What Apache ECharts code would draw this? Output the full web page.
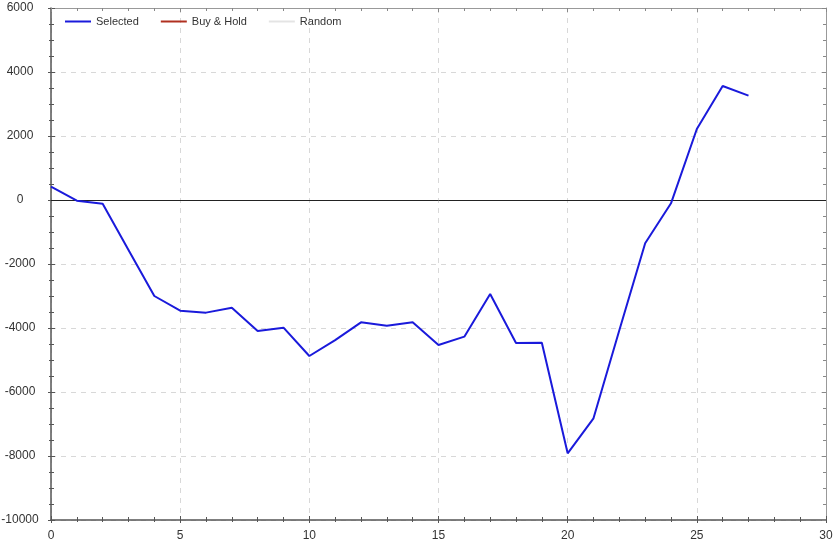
<!DOCTYPE html>
<html>
<head>
<meta charset="utf-8">
<script src="https://cdn.jsdelivr.net/npm/echarts@6/dist/echarts.min.js"></script>
<style>html,body{margin:0;padding:0;background:#fff}#c{width:839px;height:545px}</style>
</head>
<body>
<div id="c"></div>
<script>
var xIndex = [0,1,2,3,4,5,6,7,8,9,10,11,12,13,14,15,16,17,18,19,20,21,22,23,24,25,26,27];
var selected = [420,-20,-115,-1560,-3000,-3458,-3520,-3365,-4094,-3990,-4875,-4380,-3822,-3928,-3822,-4531,-4271,-2937,-4468,-4458,-7916,-6822,-4070,-1354,-104,2219,3563,3260];
var buyHold = [];
var randomS = [];
var seriesNames = ['Selected','Buy & Hold','Random'];

var font = 'Liberation Sans, Arial, sans-serif';
var chart = echarts.init(document.getElementById('c'), null, {renderer:'canvas'});
function pairs(arr){ return arr.map(function(v,i){ return [xIndex[i], v]; }); }
function plain(v){ return String(v); }
var axisCol = '#555';
var baseX = {type:'value', min:0, max:30, interval:5, gridIndex:0};
var baseY = {type:'value', min:-10000, max:6000, interval:2000, gridIndex:0};
chart.setOption({
  animation:false,
  backgroundColor:'#fff',
  grid:{left:51, right:13, top:8, bottom:25, containLabel:false, outerBoundsMode:'none'},
  legend:{
    data:seriesNames, left:60, top:11, icon:'rect', itemWidth:26, itemHeight:2, itemGap:22,
    textStyle:{fontFamily:font, fontSize:11, color:'#333'}
  },
  xAxis:[
    Object.assign({}, baseX, {position:'bottom',
      axisLine:{show:true, onZero:false, lineStyle:{color:axisCol, width:1.5}},
      axisTick:{show:true, inside:true, length:4, lineStyle:{color:axisCol}},
      minorTick:{show:true, splitNumber:5, length:3, lineStyle:{color:axisCol}},
      axisLabel:{fontFamily:font, fontSize:12, color:'#333', margin:10, formatter:plain},
      splitLine:{show:true, lineStyle:{color:'#d8d8d8', type:[5,5]}}}),
    Object.assign({}, baseX, {position:'bottom',
      axisLine:{show:false, onZero:false},
      axisTick:{show:true, inside:false, length:3, lineStyle:{color:axisCol}},
      minorTick:{show:true, splitNumber:5, length:2, lineStyle:{color:axisCol}},
      axisLabel:{show:false}, splitLine:{show:false}}),
    Object.assign({}, baseX, {position:'top',
      axisLine:{show:true, onZero:false, lineStyle:{color:'#999'}},
      axisTick:{show:true, inside:true, length:4, lineStyle:{color:'#888'}},
      minorTick:{show:true, splitNumber:5, length:3, lineStyle:{color:'#888'}},
      axisLabel:{show:false}, splitLine:{show:false}})
  ],
  yAxis:[
    Object.assign({}, baseY, {position:'left',
      axisLine:{show:true, onZero:false, lineStyle:{color:axisCol, width:1.5}},
      axisTick:{show:true, inside:true, length:4, lineStyle:{color:axisCol}},
      minorTick:{show:true, splitNumber:4, length:3, lineStyle:{color:axisCol}},
      axisLabel:{fontFamily:font, fontSize:12, color:'#333', margin:31, align:'center', formatter:plain},
      splitLine:{show:true, lineStyle:{color:'#d8d8d8', type:[5,5]}}}),
    Object.assign({}, baseY, {position:'left',
      axisLine:{show:false, onZero:false},
      axisTick:{show:true, inside:false, length:3, lineStyle:{color:axisCol}},
      minorTick:{show:true, splitNumber:4, length:2, lineStyle:{color:axisCol}},
      axisLabel:{show:false}, splitLine:{show:false}}),
    Object.assign({}, baseY, {position:'right',
      axisLine:{show:true, onZero:false, lineStyle:{color:'#999'}},
      axisTick:{show:true, inside:true, length:4, lineStyle:{color:'#888'}},
      minorTick:{show:true, splitNumber:4, length:3, lineStyle:{color:'#888'}},
      axisLabel:{show:false}, splitLine:{show:false}})
  ],
  series:[
    {name:seriesNames[0], type:'line', data:pairs(selected), showSymbol:false, symbol:'none',
     color:'#1a1adb', lineStyle:{color:'#1a1adb', width:2}, z:5,
     markLine:{silent:true, symbol:'none', label:{show:false},
       lineStyle:{color:'#222', width:1, type:'solid'}, data:[{yAxis:0}]}},
    {name:seriesNames[1], type:'line', data:pairs(buyHold), symbol:'none', color:'#b03020', lineStyle:{color:'#b03020', width:2}},
    {name:seriesNames[2], type:'line', data:pairs(randomS), symbol:'none', color:'#e4e4e4', lineStyle:{color:'#e4e4e4', width:1}}
  ]
});
</script>
</body>
</html>
